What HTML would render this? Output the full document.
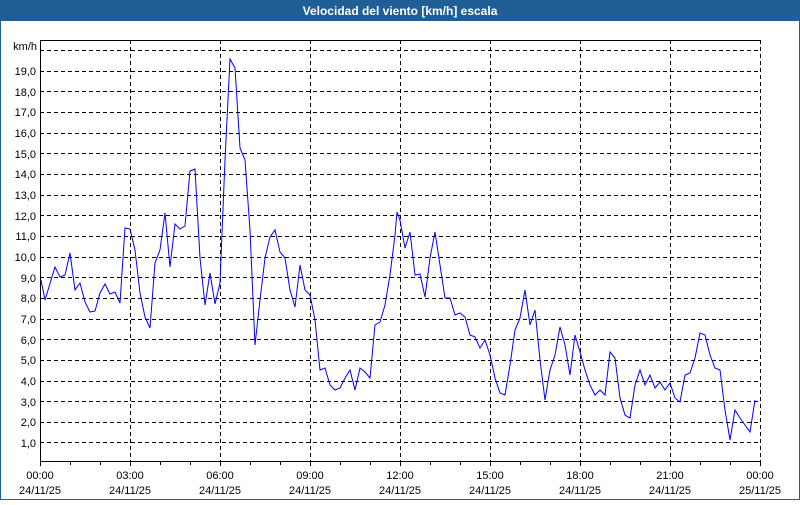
<!DOCTYPE html>
<html><head><meta charset="utf-8"><style>
html,body{margin:0;padding:0;background:#fff}
body{width:800px;height:500px;overflow:hidden;font-family:"Liberation Sans",sans-serif}
</style></head><body>
<svg width="800" height="500" xmlns="http://www.w3.org/2000/svg" font-family="Liberation Sans, sans-serif" font-size="11">
<rect x="0" y="0" width="800" height="500" fill="#fff"/>
<rect x="0.5" y="0.5" width="799" height="499" fill="none" stroke="#1f5f96"/>
<rect x="0" y="0" width="800" height="21" fill="#1f5f96"/>
<text x="400" y="15" fill="#fff" font-weight="bold" font-size="12" text-anchor="middle">Velocidad del viento [km/h] escala</text>
<g stroke="#000" stroke-dasharray="4,3" stroke-width="1">
<line x1="40" y1="50.5" x2="760" y2="50.5"/>
<line x1="40" y1="71.5" x2="760" y2="71.5"/>
<line x1="40" y1="91.5" x2="760" y2="91.5"/>
<line x1="40" y1="112.5" x2="760" y2="112.5"/>
<line x1="40" y1="133.5" x2="760" y2="133.5"/>
<line x1="40" y1="153.5" x2="760" y2="153.5"/>
<line x1="40" y1="174.5" x2="760" y2="174.5"/>
<line x1="40" y1="195.5" x2="760" y2="195.5"/>
<line x1="40" y1="215.5" x2="760" y2="215.5"/>
<line x1="40" y1="236.5" x2="760" y2="236.5"/>
<line x1="40" y1="257.5" x2="760" y2="257.5"/>
<line x1="40" y1="277.5" x2="760" y2="277.5"/>
<line x1="40" y1="298.5" x2="760" y2="298.5"/>
<line x1="40" y1="319.5" x2="760" y2="319.5"/>
<line x1="40" y1="339.5" x2="760" y2="339.5"/>
<line x1="40" y1="360.5" x2="760" y2="360.5"/>
<line x1="40" y1="381.5" x2="760" y2="381.5"/>
<line x1="40" y1="401.5" x2="760" y2="401.5"/>
<line x1="40" y1="422.5" x2="760" y2="422.5"/>
<line x1="40" y1="442.5" x2="760" y2="442.5"/>
<line x1="130.5" y1="40" x2="130.5" y2="461"/>
<line x1="220.5" y1="40" x2="220.5" y2="461"/>
<line x1="310.5" y1="40" x2="310.5" y2="461"/>
<line x1="400.5" y1="40" x2="400.5" y2="461"/>
<line x1="490.5" y1="40" x2="490.5" y2="461"/>
<line x1="580.5" y1="40" x2="580.5" y2="461"/>
<line x1="670.5" y1="40" x2="670.5" y2="461"/>
<line x1="760.5" y1="40" x2="760.5" y2="461"/>
</g>
<g stroke="#000" stroke-width="1" fill="none">
<path d="M40.5 461.5 V40.5 H760.5 M40 461.5 H761"/>
<path d="M40.5 461v5 M70.5 461v4 M100.5 461v4 M130.5 461v5 M160.5 461v4 M190.5 461v4 M220.5 461v5 M250.5 461v4 M280.5 461v4 M310.5 461v5 M340.5 461v4 M370.5 461v4 M400.5 461v5 M430.5 461v4 M460.5 461v4 M490.5 461v5 M520.5 461v4 M550.5 461v4 M580.5 461v5 M610.5 461v4 M640.5 461v4 M670.5 461v5 M700.5 461v4 M730.5 461v4 M760.5 461v5"/>
</g>
<g fill="#000" text-anchor="end">
<text x="37" y="50">km/h</text>
<text x="36" y="75">19,0</text><text x="36" y="96">18,0</text><text x="36" y="116">17,0</text>
<text x="36" y="137">16,0</text><text x="36" y="158">15,0</text><text x="36" y="178">14,0</text>
<text x="36" y="199">13,0</text><text x="36" y="220">12,0</text><text x="36" y="240">11,0</text>
<text x="36" y="261">10,0</text><text x="36" y="282">9,0</text><text x="36" y="302">8,0</text>
<text x="36" y="323">7,0</text><text x="36" y="344">6,0</text><text x="36" y="364">5,0</text>
<text x="36" y="385">4,0</text><text x="36" y="406">3,0</text><text x="36" y="426">2,0</text>
<text x="36" y="447">1,0</text>
</g>
<g fill="#000" text-anchor="middle">
<text x="40" y="479">00:00</text><text x="40" y="494">24/11/25</text>
<text x="130" y="479">03:00</text><text x="130" y="494">24/11/25</text>
<text x="220" y="479">06:00</text><text x="220" y="494">24/11/25</text>
<text x="310" y="479">09:00</text><text x="310" y="494">24/11/25</text>
<text x="400" y="479">12:00</text><text x="400" y="494">24/11/25</text>
<text x="490" y="479">15:00</text><text x="490" y="494">24/11/25</text>
<text x="580" y="479">18:00</text><text x="580" y="494">24/11/25</text>
<text x="670" y="479">21:00</text><text x="670" y="494">24/11/25</text>
<text x="760" y="479">00:00</text><text x="760" y="494">25/11/25</text>
</g>
<polyline fill="none" stroke="#0000ff" stroke-width="1" points="41,280 45,300 55,267 60,277 65,275 70,253 75,290 80,283 85,302 90,312 95,311 100,293 105,284 110,294 115,292 120,303 125,228 130,229 135,250 140,293 145,317 150,328 155,263 160,250 165,213 170,267 175,224 180,229 185,226 190,171 195,169 200,258 205,305 210,273 215,304 220,283 225,160 230,59 235,68 240,148 245,160 250,230 255,345 260,300 265,258 270,237 275,230 280,252 285,258 290,290 295,307 300,265 305,290 310,295 315,320 320,370 325,368 330,385 335,390 340,388 345,378 350,370 355,390 360,368 365,372 370,378 375,325 380,322 385,305 390,275 395,235 397,212 400,220 405,248 410,232 415,275 420,274 425,297 430,258 435,232 440,265 445,298 450,298 455,315 460,313 465,317 470,335 475,337 480,348 485,340 490,355 495,378 500,393 505,395 510,365 515,330 520,318 525,290 530,325 535,310 540,360 545,400 550,370 555,355 560,327 565,345 570,375 575,335 580,352 585,370 590,385 595,395 600,390 605,395 610,352 615,358 620,398 625,415 630,418 635,385 640,370 645,385 650,375 655,388 660,382 665,390 670,383 675,398 680,402 685,375 690,373 695,358 700,333 705,335 710,355 715,368 720,370 725,410 730,440 735,410 740,418 745,425 750,432 755,400"/>
</svg>
</body></html>
